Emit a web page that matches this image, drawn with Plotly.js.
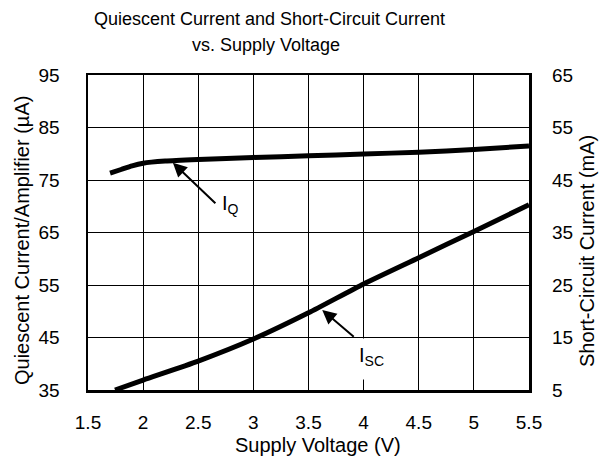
<!DOCTYPE html>
<html>
<head>
<meta charset="utf-8">
<script src="https://cdn.plot.ly/plotly-3.0.1.min.js"></script>
<style>html,body{margin:0;padding:0;background:#fff;}#chart{width:611px;height:459px;}</style>
</head>
<body>
<div id="chart"></div>
<script>
// Supply voltage (V) and quiescent current per amplifier (µA)
const iqVoltage = [1.7, 1.8, 1.9, 2.0, 2.2, 2.5, 3.0, 3.5, 4.0, 4.5, 5.0, 5.5];
const iqCurrent = [76.3, 77.0, 77.7, 78.2, 78.6, 78.9, 79.3, 79.6, 79.95, 80.3, 80.8, 81.5];
// Supply voltage (V) and short-circuit current (mA)
const iscVoltage = [1.745, 2.0, 2.5, 3.0, 3.5, 4.0, 4.5, 5.0, 5.5];
const iscCurrent = [5.0, 6.9, 10.5, 14.7, 19.7, 25.2, 30.2, 35.2, 40.3];
// Axis ticks
const xTicks = [1.5, 2, 2.5, 3, 3.5, 4, 4.5, 5, 5.5];
const yLeftTicks = [35, 45, 55, 65, 75, 85, 95];
const yRightTicks = [5, 15, 25, 35, 45, 55, 65];

const FONT = '"Liberation Sans", Arial, Helvetica, sans-serif';

const traces = [
  {x: iqVoltage, y: iqCurrent, type: 'scatter', mode: 'lines', name: 'IQ',
   line: {color: '#000', width: 5, shape: 'spline', smoothing: 0.6}, yaxis: 'y'},
  {x: iscVoltage, y: iscCurrent, type: 'scatter', mode: 'lines', name: 'ISC',
   line: {color: '#000', width: 5, shape: 'spline', smoothing: 0.6}, yaxis: 'y2'}
];

const layout = {
  width: 611, height: 459,
  margin: {l: 88, r: 82, t: 75, b: 69},
  paper_bgcolor: '#fff', plot_bgcolor: '#fff',
  showlegend: false,
  font: {family: FONT, color: '#000', size: 20},
  title: {text: 'Quiescent Current and Short-Circuit Current', font: {family: FONT, size: 18, color: '#000'},
          xref: 'container', yref: 'container', x: 269.5/611, y: 1 - 19/459, xanchor: 'center', yanchor: 'middle'},
  xaxis: {range: [1.5, 5.5], tickvals: xTicks, ticktext: xTicks.map(String), showgrid: true, gridcolor: '#000', gridwidth: 1,
          zeroline: false, showline: true, linecolor: '#000', linewidth: 2.5, mirror: true, ticks: '',
          ticklabelstandoff: 14, tickfont: {family: FONT, size: 19, color: '#000'}},
  yaxis: {range: [35, 95], tickvals: yLeftTicks, ticktext: yLeftTicks.map(String), showgrid: true, gridcolor: '#000', gridwidth: 1,
          zeroline: false, showline: true, linecolor: '#000', linewidth: 2.5, mirror: true, ticks: '',
          ticklabelstandoff: 22, tickfont: {family: FONT, size: 19, color: '#000'}},
  yaxis2: {range: [5, 65], tickvals: yRightTicks, ticktext: yRightTicks.map(String), overlaying: 'y', side: 'right',
           showgrid: false, zeroline: false, showline: false, ticks: '',
           ticklabelstandoff: 22, tickfont: {family: FONT, size: 19, color: '#000'}},
  annotations: [
    {text: 'vs. Supply Voltage', xref: 'paper', yref: 'paper', x: (266-88)/441, y: (390-45)/315,
     xanchor: 'center', yanchor: 'middle', showarrow: false, font: {family: FONT, size: 18, color: '#000'}},
    {text: 'Quiescent Current/Amplifier (µA)', xref: 'paper', yref: 'paper', x: (22-88)/441, y: (390-241)/315,
     xanchor: 'center', yanchor: 'middle', textangle: -90, showarrow: false, font: {family: FONT, size: 20, color: '#000'}},
    {text: 'Short-Circuit Current (mA)', xref: 'paper', yref: 'paper', x: (587-88)/441, y: (390-251)/315,
     xanchor: 'center', yanchor: 'middle', textangle: -90, showarrow: false, font: {family: FONT, size: 20, color: '#000'}},
    {text: 'Supply Voltage (V)', xref: 'paper', yref: 'paper', x: (318-88)/441, y: (390-445)/315,
     xanchor: 'center', yanchor: 'middle', showarrow: false, font: {family: FONT, size: 20, color: '#000'}},
    // IQ arrow and label
    {text: '', x: 2.27, y: 78.3, xref: 'x', yref: 'y', showarrow: true, ax: 44, ay: 42,
     arrowhead: 2, arrowsize: 1.4, arrowwidth: 2, arrowcolor: '#000'},
    {text: 'I<sub>Q</sub>', x: 2.70, y: 70.4, xref: 'x', yref: 'y', xanchor: 'left', yanchor: 'middle',
     showarrow: false, font: {family: FONT, size: 20, color: '#000'}},
    // ISC arrow and label
    {text: '', x: 3.6245, y: 50.24, xref: 'x', yref: 'y', showarrow: true, ax: 33, ay: 28,
     arrowhead: 2, arrowsize: 1.4, arrowwidth: 2, arrowcolor: '#000'},
    {text: 'I<sub>SC</sub>', x: 3.905, y: 44.9, xref: 'x', yref: 'y', xanchor: 'left', yanchor: 'top',
     width: 37, height: 30, align: 'left', valign: 'top', borderpad: 5, bgcolor: '#fff',
     showarrow: false, font: {family: FONT, size: 20, color: '#000'}}
  ]
};

Plotly.newPlot('chart', traces, layout, {staticPlot: true, displayModeBar: false});
</script>
</body>
</html>
